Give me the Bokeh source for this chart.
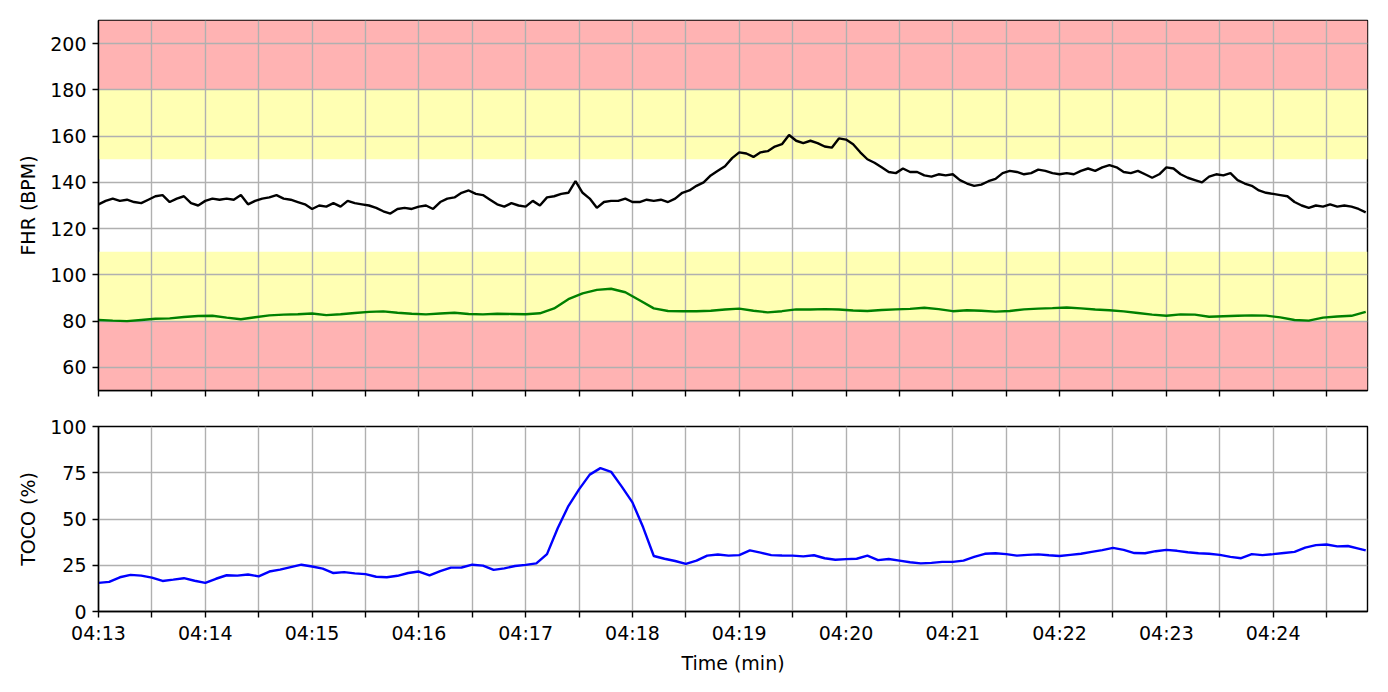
from bokeh.plotting import figure
from bokeh.layouts import column
from bokeh.models import FixedTicker, Range1d
from bokeh.embed import file_html
from bokeh.resources import INLINE

# ---------------- data ----------------
# fetal heart rate (BPM), one reading every 4 s from 04:13:00
fhr = [
    130.5, 132, 133, 132, 132.5, 131.5, 131, 132.5, 134, 134.5,
    131.5, 133, 134, 131, 130, 132, 133, 132.5, 133, 132.5,
    134.5, 130.5, 132, 133, 133.5, 134.5, 133, 132.5, 131.5, 130.5,
    128.5, 130, 129.5, 131, 129.5, 132, 131, 130.5, 130, 129,
    127.5, 126.5, 128.5, 129, 128.5, 129.5, 130, 128.5, 131.5, 133,
    133.5, 135.5, 136.5, 135, 134.5, 132.5, 130.5, 129.5, 131, 130,
    129.5, 132, 130, 133.5, 134, 135, 135.5, 140.5, 135.5, 133,
    129, 131.5, 132, 132, 133, 131.5, 131.5, 132.5, 132, 132.5,
    131.5, 133, 135.5, 136.5, 138.5, 140, 143, 145, 147, 150.5,
    153, 152.5, 151, 153, 153.5, 155.5, 156.5, 160.5, 158, 157,
    158, 157, 155.5, 155, 159, 158.5, 156.5, 153, 150, 148.5,
    146.5, 144.5, 144, 146, 144.5, 144.5, 143, 142.5, 143.5, 143,
    143.5, 141, 139.5, 138.5, 139, 140.5, 141.5, 144, 145, 144.5,
    143.5, 144, 145.5, 145, 144, 143.5, 144, 143.5, 145, 146,
    145, 146.5, 147.5, 146.5, 144.5, 144, 145, 143.5, 142, 143.5,
    146.5, 146, 143.5, 142, 141, 140, 142.5, 143.5, 143, 144,
    141, 139.5, 138.5, 136.5, 135.5, 135, 134.5, 134, 131.5, 130,
    129, 130, 129.5, 130.5, 129.5, 130, 129.5, 128.5, 127,
]
# maternal heart rate (BPM), one reading every 8 s
mhr = [
    80.5, 80.2, 80, 80.5, 81, 81.2, 81.8, 82.2, 82.3, 81.5,
    80.8, 81.7, 82.5, 82.8, 83, 83.3, 82.6, 83, 83.5, 84,
    84.2, 83.6, 83.2, 82.9, 83.3, 83.6, 83.1, 82.9, 83.2, 83.1,
    83, 83.4, 85.5, 89.5, 92, 93.5, 94, 92.5, 89, 85.5,
    84.4, 84.3, 84.3, 84.5, 85, 85.4, 84.5, 83.8, 84.3, 85.1,
    85, 85.2, 85, 84.6, 84.4, 84.8, 85.1, 85.3, 85.8, 85.2,
    84.3, 84.7, 84.5, 84.1, 84.4, 85.1, 85.4, 85.6, 85.9, 85.5,
    85, 84.7, 84.2, 83.5, 82.8, 82.3, 82.9, 82.8, 81.9, 82.1,
    82.3, 82.5, 82.4, 81.6, 80.5, 80.2, 81.5, 82, 82.3, 84,
]
# uterine activity (%), one reading every 6 s, last one at 712 s
toco = [
    15.5, 16, 18.5, 19.8, 19.4, 18.3, 16.5, 17.2, 18, 16.6,
    15.5, 17.7, 19.6, 19.4, 20, 19, 21.6, 22.6, 24, 25.3,
    24.3, 23.2, 20.8, 21.3, 20.6, 20.2, 18.8, 18.5, 19.3, 20.8,
    21.6, 19.5, 21.8, 23.7, 23.8, 25.3, 24.8, 22.5, 23.3, 24.6,
    25.2, 26, 31, 45, 57, 66, 74, 77.5, 75.5, 67.5,
    59, 45.5, 30, 28.5, 27.3, 25.7, 27.5, 30.2, 30.8, 30.2,
    30.5, 33, 31.8, 30.5, 30.3, 30.2, 29.8, 30.4, 28.8, 28,
    28.3, 28.5, 30.2, 27.8, 28.4, 27.5, 26.6, 26, 26.3, 26.8,
    26.8, 27.5, 29.5, 31.2, 31.5, 31, 30.2, 30.6, 30.9, 30.4,
    30, 30.6, 31.2, 32.2, 33.2, 34.4, 33.3, 31.6, 31.5, 32.6,
    33.3, 32.8, 32, 31.5, 31.2, 30.6, 29.5, 28.8, 31, 30.5,
    31, 31.6, 32.2, 34.5, 35.9, 36.2, 35.2, 35.4, 34, 33,
]
fhr_t = [4 * i for i in range(len(fhr))]
mhr_t = [8 * i for i in range(len(mhr))]
toco_t = list(range(0, 709, 6)) + [712]

x_ticks = list(range(0, 691, 30))
x_tick_labels = ["04:13", "", "04:14", "", "04:15", "", "04:16", "", "04:17", "",
                 "04:18", "", "04:19", "", "04:20", "", "04:21", "", "04:22", "",
                 "04:23", "", "04:24", ""]
fhr_ticks = [60, 80, 100, 120, 140, 160, 180, 200]
toco_ticks = [0, 25, 50, 75, 100]
band_bottom = [180, 150, 80, 50]
band_top = [210, 180, 110, 80]
band_color = ["#ffb3b3", "#ffffb3", "#ffffb3", "#ffb3b3"]
x_start, x_end = 0, 713

# ---------------- styling ----------------
FONT = "DejaVu Sans"
FS = "19px"


def style(p, yticks):
    p.background_fill_color = "white"
    p.border_fill_color = "white"
    p.outline_line_color = "black"
    p.outline_line_width = 1.4
    p.outline_line_alpha = 1.0
    p.xaxis.ticker = FixedTicker(ticks=x_ticks)
    p.yaxis.ticker = FixedTicker(ticks=yticks)
    p.xgrid.ticker = FixedTicker(ticks=x_ticks)
    p.ygrid.ticker = FixedTicker(ticks=yticks)
    p.grid.grid_line_color = "#b0b0b0"
    p.grid.grid_line_width = 1.4
    for ax in p.axis:
        ax.axis_line_color = "black"
        ax.axis_line_width = 1.4
        ax.major_tick_line_color = "black"
        ax.major_tick_line_width = 1.4
        ax.major_tick_out = 6
        ax.major_tick_in = 0
        ax.minor_tick_line_color = None
        ax.major_label_text_font = FONT
        ax.major_label_text_font_size = FS
        ax.major_label_text_color = "black"
        ax.major_label_standoff = 6
        ax.axis_label_text_font = FONT
        ax.axis_label_text_font_size = FS
        ax.axis_label_text_font_style = "normal"
        ax.axis_label_text_color = "black"
        ax.axis_label_standoff = 8


p1 = figure(frame_width=1269, frame_height=370,
            x_range=Range1d(x_start, x_end), y_range=Range1d(50, 210),
            output_backend="svg", toolbar_location=None,
            min_border_left=98, min_border_right=13,
            min_border_top=20, min_border_bottom=18)
style(p1, fhr_ticks)
p1.quad(left=[x_start] * len(band_bottom), right=[x_end] * len(band_bottom),
        bottom=band_bottom, top=band_top, fill_color=band_color,
        line_color=None, level="image")
p1.line(fhr_t, fhr, line_color="black", line_width=2.4)
p1.line(mhr_t, mhr, line_color="#008000", line_width=2.4)
p1.yaxis.axis_label = "FHR (BPM)"
p1.xaxis.major_label_overrides = {t: "" for t in x_ticks}
p1.xaxis.major_label_text_font_size = "0px"
p1.xaxis.major_label_standoff = 0

p2 = figure(frame_width=1269, frame_height=185,
            x_range=p1.x_range, y_range=Range1d(0, 100),
            output_backend="svg", toolbar_location=None,
            min_border_left=98, min_border_right=13,
            min_border_top=18, min_border_bottom=66)
style(p2, toco_ticks)
p2.line(toco_t, toco, line_color="#0000ff", line_width=2.4)
p2.yaxis.axis_label = "TOCO (%)"
p2.xaxis.axis_label = "Time (min)"
p2.xaxis.major_label_overrides = dict(zip(x_ticks, x_tick_labels))
p2.xaxis.major_label_standoff = 4
p2.xaxis.axis_label_standoff = 5

layout = column(p1, p2)
open("out.html", "w").write(file_html(layout, INLINE))
